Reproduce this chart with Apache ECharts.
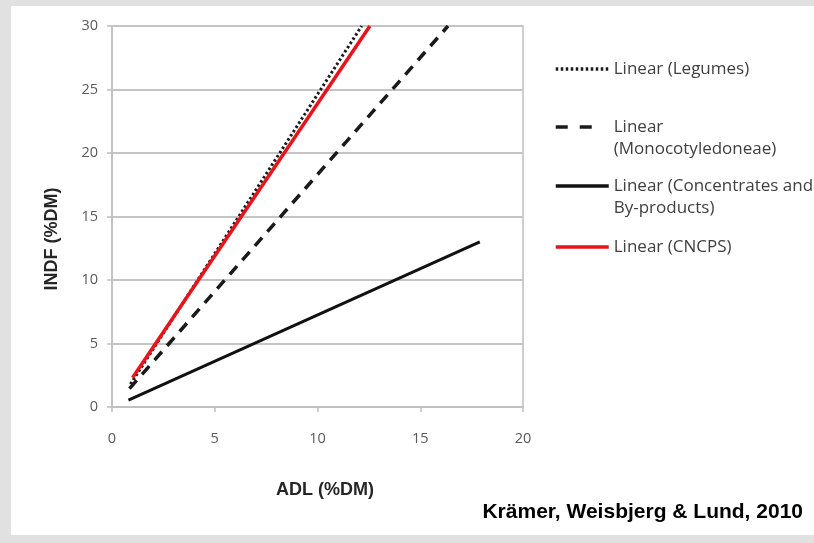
<!DOCTYPE html>
<html>
<head>
<meta charset="utf-8">
<script src="https://cdn.jsdelivr.net/npm/echarts@6/dist/echarts.min.js"></script>
<style>
  html, body { margin: 0; padding: 0; background: #e1e1e1; }
  #wrap { position: relative; width: 814px; height: 543px; background: #e1e1e1; overflow: hidden; }
  #chart { position: absolute; left: 11px; top: 6px; width: 803px; height: 529px; background: #fff; }
</style>
</head>
<body>
<div id="wrap"><div id="chart"></div></div>
<script>
// 趋势线端点 [ADL, INDF]
var legumes = [[0.9, 1.8], [12.15, 30]];
var monocot = [[0.85, 1.45], [16.35, 30]];
var concentrates = [[0.8, 0.55], [17.9, 13.0]];
var cncps = [[1.0, 2.3], [12.55, 30]];

var seriesNames = ['Linear (Legumes)', 'Linear (Monocotyledoneae)', 'Linear (Concentrates and By-products)', 'Linear (CNCPS)'];
// 两行的图例前面加一个空行，让第一行和线对齐
var legendLabels = ['Linear (Legumes)', '\nLinear\n(Monocotyledoneae)', '\nLinear (Concentrates and\nBy-products)', 'Linear (CNCPS)'];
var xTicks = [0, 5, 10, 15, 20];
var yTicks = [0, 5, 10, 15, 20, 25, 30];

var axisGray = '#bfbfbf';
var tickFont = '"Open Sans", sans-serif';

// 每个图例单独定位
function makeLegend (i, top, lineType) {
  var lg = {
    data: [seriesNames[i]],
    left: 543,
    top: top,
    padding: 0,
    itemWidth: 53,
    itemHeight: 24,
    selectedMode: false,
    itemStyle: { opacity: 0 },
    lineStyle: { width: 3.5 },
    formatter: function () { return legendLabels[i]; },
    textStyle: {
      fontFamily: tickFont,
      fontSize: 17,
      color: '#404040',
      lineHeight: 22
    }
  };
  if (lineType) {
    lg.lineStyle.type = lineType;
  }
  return lg;
}

var charts = echarts.init(document.getElementById('chart'));
charts.setOption({
  animation: false,
  grid: {
    left: 101,
    right: 291,
    top: 20,
    bottom: 128,
    show: true,
    borderColor: axisGray,
    borderWidth: 1.5
  },
  xAxis: {
    type: 'value',
    min: xTicks[0],
    max: xTicks[xTicks.length - 1],
    interval: 5,
    axisLine: { show: true, lineStyle: { color: axisGray, width: 1.5 } },
    axisTick: { show: true, length: 5, lineStyle: { color: axisGray, width: 1.5 } },
    splitLine: { show: false },
    axisLabel: { color: '#595959', fontFamily: tickFont, fontSize: 14.5, margin: 24 }
  },
  yAxis: {
    type: 'value',
    min: yTicks[0],
    max: yTicks[yTicks.length - 1],
    interval: 5,
    axisLine: { show: true, lineStyle: { color: axisGray, width: 1.5 } },
    axisTick: { show: true, length: 5, lineStyle: { color: axisGray, width: 1.5 } },
    splitLine: { show: true, lineStyle: { color: '#c4c4c4', width: 2 } },
    axisLabel: { color: '#595959', fontFamily: tickFont, fontSize: 14.5, margin: 14 }
  },
  legend: [
    makeLegend(0, 52),
    makeLegend(1, 88, [12, 12, 12, 17]),
    makeLegend(2, 147),
    makeLegend(3, 230)
  ],
  graphic: [
    {
      type: 'text', x: 314, y: 484,
      style: { text: 'ADL (%DM)', font: 'bold 18px "Liberation Sans", Arial, sans-serif', fill: '#262626', textAlign: 'center', textVerticalAlign: 'middle' }
    },
    {
      type: 'text', x: 41, y: 233, rotation: Math.PI / 2,
      style: { text: 'INDF (%DM)', font: 'bold 18px "Liberation Sans", Arial, sans-serif', fill: '#262626', textAlign: 'center', textVerticalAlign: 'middle' }
    },
    {
      type: 'text', x: 792, y: 506,
      style: { text: 'Krämer, Weisbjerg & Lund, 2010', font: 'bold 21px "Liberation Sans", Arial, sans-serif', fill: '#000', textAlign: 'right', textVerticalAlign: 'middle' }
    }
  ],
  series: [
    {
      name: seriesNames[0], type: 'line', data: legumes, symbol: 'none',
      lineStyle: { color: '#1a1a1a', width: 3, type: [2.5, 2.5] }
    },
    {
      name: seriesNames[1], type: 'line', data: monocot, symbol: 'none',
      lineStyle: { color: '#1a1a1a', width: 3.5, type: [11, 8] }
    },
    {
      name: seriesNames[2], type: 'line', data: concentrates, symbol: 'none',
      lineStyle: { color: '#111', width: 3 }
    },
    {
      name: seriesNames[3], type: 'line', data: cncps, symbol: 'none',
      lineStyle: { color: '#e8141b', width: 3.5 }
    }
  ]
});
</script>
</body>
</html>
